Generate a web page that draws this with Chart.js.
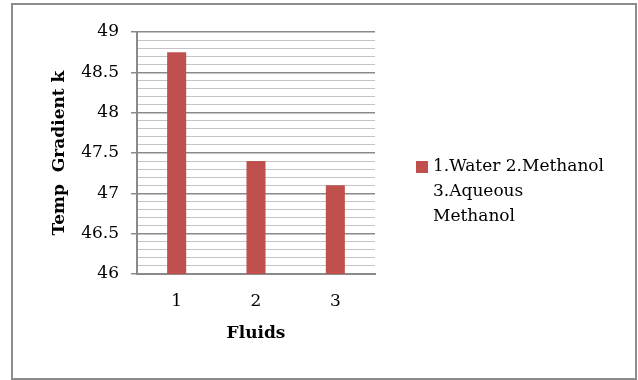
<!DOCTYPE html>
<html>
<head>
<meta charset="utf-8">
<script src="https://cdn.jsdelivr.net/npm/chart.js@4"></script>
<style>
  body { margin: 0; background: #fff; }
</style>
</head>
<body>
<canvas id="myChart" width="638" height="380"></canvas>
<script>
const categories = ['1', '2', '3'];
const values = [48.75, 47.4, 47.1];
const legendLines = ['1.Water 2.Methanol', '3.Aqueous', 'Methanol'];
const yMin = 46, yMax = 49, yStep = 0.1;

const barColor = '#c0504d';
const isMajor = (v) => Math.abs(v * 2 - Math.round(v * 2)) < 1e-6;

// outer frame + wrapped legend, like the Excel original
const frameAndLegend = {
    id: 'frameAndLegend',
    afterDraw(chart) {
        const c = chart.ctx;
        const area = chart.chartArea;
        c.save();
        c.strokeStyle = '#8c8c8c';
        c.lineWidth = 2;
        c.strokeRect(12, 4, 624, 375);

        const x = area.right + 41;
        const y = area.top + 129;
        c.fillStyle = barColor;
        c.fillRect(x, y, 12, 12);
        c.fillStyle = '#000';
        c.font = '17px "DejaVu Serif"';
        c.textBaseline = 'middle';
        legendLines.forEach((line, i) => {
            c.fillText(line, x + 17, y + 6 + i * 25);
        });
        c.restore();
    }
};

const ctx = document.getElementById('myChart');

new Chart(ctx, {
    type: 'bar',
    data: {
        labels: categories,
        datasets: [{
            label: legendLines.join(' '),
            data: values,
            backgroundColor: barColor,
            barPercentage: 0.24,
            categoryPercentage: 1
        }]
    },
    options: {
        responsive: false,
        animation: false,
        layout: {
            padding: { left: 0, right: 263, top: 32, bottom: 36 }
        },
        plugins: {
            legend: { display: false },
            tooltip: { enabled: false }
        },
        scales: {
            x: {
                grid: { display: false, drawTicks: false },
                border: { color: '#8a8a8a', width: 2 },
                ticks: {
                    color: '#000',
                    padding: 17,
                    font: { family: 'DejaVu Serif', size: 17 }
                },
                title: {
                    display: true,
                    text: 'Fluids',
                    color: '#000',
                    padding: { top: 0, bottom: 0 },
                    font: { family: 'DejaVu Serif', size: 17, weight: 'bold' }
                },
                afterFit: (scale) => { scale.height = 70; }
            },
            y: {
                min: yMin,
                max: yMax,
                grid: {
                    color: (c) => (c.tick && isMajor(c.tick.value)) ? '#8a8a8a' : '#c4c4c4',
                    lineWidth: (c) => (c.tick && isMajor(c.tick.value)) ? 1.5 : 1,
                    tickColor: (c) => (c.tick && isMajor(c.tick.value)) ? '#8a8a8a' : 'rgba(0,0,0,0)',
                    tickLength: 6
                },
                border: { color: '#8a8a8a', width: 2 },
                ticks: {
                    stepSize: yStep,
                    maxTicksLimit: 40,
                    autoSkip: false,
                    padding: 12,
                    color: '#000',
                    font: { family: 'DejaVu Serif', size: 17 },
                    callback: (v) => isMajor(v) ? String(Math.round(v * 2) / 2) : ''
                },
                title: {
                    display: true,
                    text: 'Temp  Gradient k',
                    color: '#000',
                    padding: { top: 49, bottom: 0 },
                    font: { family: 'DejaVu Serif', size: 17, weight: 'bold' }
                },
                afterFit: (scale) => { scale.width = 137; }
            }
        }
    },
    plugins: [frameAndLegend]
});
</script>
</body>
</html>
